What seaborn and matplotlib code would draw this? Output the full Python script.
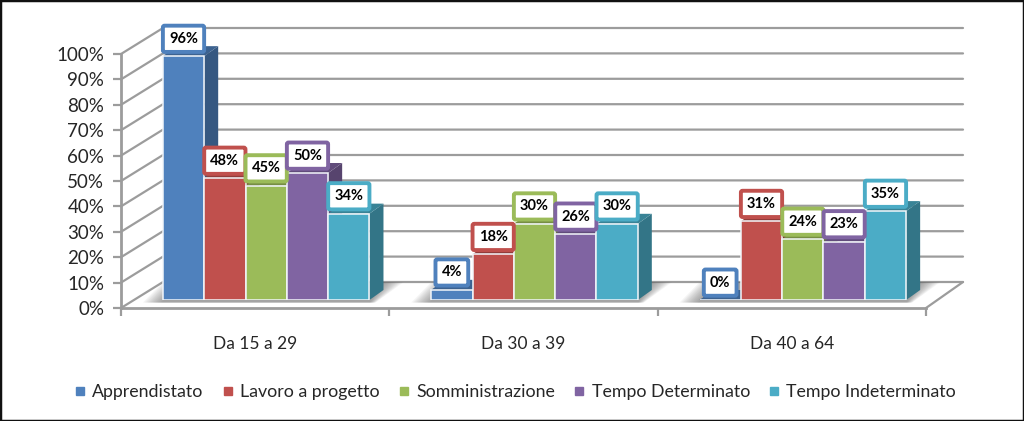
import numpy as np
import pandas as pd
import matplotlib
matplotlib.use('Agg')
import matplotlib.pyplot as plt
import seaborn as sns
from matplotlib.colors import to_rgb
from matplotlib.lines import Line2D
from matplotlib.patches import Polygon, Rectangle

# dati
fasce = ['Da 15 a 29', 'Da 30 a 39', 'Da 40 a 64']
contratti = ['Apprendistato', 'Lavoro a progetto', 'Somministrazione',
             'Tempo Determinato', 'Tempo Indeterminato']
apprendistato = [96, 4, 0]
lavoro_progetto = [48, 18, 31]
somministrazione = [45, 30, 24]
tempo_determinato = [50, 26, 23]
tempo_indeterminato = [34, 30, 35]
colori = ['#4F81BD', '#C0504D', '#9BBB59', '#8064A2', '#4BACC6']
tick_y = list(range(0, 101, 10))

df = pd.DataFrame({
    'fascia': fasce * 5,
    'contratto': np.repeat(contratti, 3),
    'valore': apprendistato + lavoro_progetto + somministrazione
    + tempo_determinato + tempo_indeterminato,
})

W, H = 1024, 421
sns.set_style('white')
plt.rcParams['font.family'] = ['Lato', 'DejaVu Sans']
testo = '#262626'
griglia = '#9C9C9C'

fig = plt.figure(figsize=(W / 100, H / 100), dpi=100)
fig.patch.set_facecolor('white')


def box(x0, x1, y_bottom, y_top):
    return [x0 / W, 1 - y_bottom / H, (x1 - x0) / W, (y_bottom - y_top) / H]


# assi principali: griglia, etichette
ax = fig.add_axes(box(121, 926, 308, 54))
ax.set_xlim(-0.5, 2.5)
ax.set_ylim(0, 100)
ax.patch.set_alpha(0)

dx_muro = 42 / 268.3
dy_muro = 26 / 2.54
fine_muro = 2.5 + 37 / 268.3
for v in tick_y:
    ax.plot([-0.5, -0.5 + dx_muro, fine_muro], [v, v + dy_muro, v + dy_muro],
            color=griglia, lw=1.6, clip_on=False, zorder=1)
ax.plot([2.5, fine_muro], [0, dy_muro], color=griglia, lw=1.6, clip_on=False, zorder=1)

ax.set_yticks(tick_y)
ax.set_yticklabels([f'{v}%' for v in tick_y], fontsize=13.5, color=testo)
ax.set_xticks([-0.5, 0.5, 1.5, 2.5])
ax.set_xticklabels([])
ax.set_xticks([0, 1, 2], minor=True)
ax.set_xticklabels(fasce, minor=True, fontsize=12.5, color=testo)
ax.tick_params(axis='both', which='major', length=6, width=1.6, color=griglia, left=True, bottom=True)
ax.tick_params(axis='y', pad=6)
ax.tick_params(axis='x', which='minor', length=0, pad=20)
for lato in ['top', 'right']:
    ax.spines[lato].set_visible(False)
for lato in ['left', 'bottom']:
    ax.spines[lato].set_color(griglia)
    ax.spines[lato].set_linewidth(2)

# assi delle barre, spostati sul pavimento
ax_b = fig.add_axes(box(132, 937, 300, 46))
sns.barplot(data=df, x='fascia', y='valore', hue='contratto', order=fasce,
            hue_order=contratti, palette=colori, saturation=1, width=0.77,
            gap=0, edgecolor='#F2F6FA', linewidth=1.1, legend=False, ax=ax_b)
ax_b.set_xlim(-0.5, 2.5)
ax_b.set_ylim(0, 100)
ax_b.axis('off')
ax_b.patch.set_alpha(0)

dx = 14 / 268.3
dy = 10 / 2.54

# ombra sul pavimento
for g in range(len(fasce)):
    primo = ax_b.containers[0][g]
    ultimo = ax_b.containers[-1][g]
    x0 = primo.get_x()
    x1 = ultimo.get_x() + ultimo.get_width()
    for k in range(12):
        ext = (1 - k / 12) * 20 / 268.3
        ax_b.add_patch(Polygon(
            [(x0 - ext, -1), (x1 + ext * 0.3, -1),
             (x1 + ext + 14 / 268.3, 7), (x0 - ext + 20 / 268.3, 7)],
            closed=True, facecolor='#555555', edgecolor='none', alpha=0.06,
            clip_on=False, zorder=1))

# facce laterali e superiori, etichette
for h, cont in enumerate(ax_b.containers):
    base = np.array(to_rgb(colori[h]))
    for bar, fascia in zip(cont, fasce):
        x, w, v = bar.get_x(), bar.get_width(), bar.get_height()
        bar.set_zorder(4 + 2 * h)
        ax_b.add_patch(Polygon(
            [(x + w, 0), (x + w + dx, dy), (x + w + dx, v + dy), (x + w, v)],
            closed=True, facecolor=base * 0.68, edgecolor='none', zorder=3 + 2 * h))
        ax_b.add_patch(Polygon(
            [(x, v), (x + w, v), (x + w + dx, v + dy), (x + dx, v + dy)],
            closed=True, facecolor=base * 0.76, edgecolor='none', zorder=3 + 2 * h))
        ax_b.annotate(f'{v:.0f}%', xy=(x + w / 2, v), xytext=(0, 12.5),
                      textcoords='offset points', ha='center', va='center',
                      fontsize=10.5, fontweight='bold', color='black', zorder=30,
                      annotation_clip=False,
                      bbox=dict(boxstyle='round,pad=0.42,rounding_size=0.12',
                                facecolor='white', edgecolor=colori[h], linewidth=2.8))

# legenda
maniglie = [Line2D([], [], linestyle='none', marker='s', markersize=5.5, color=c) for c in colori]
fig.legend(maniglie, contratti, loc='center', bbox_to_anchor=(515 / W, 1 - 392 / H),
           ncol=5, frameon=False, fontsize=12.8, labelcolor=testo, handlelength=0.7,
           handletextpad=0.35, columnspacing=1.0)

# cornice
fig.add_artist(Rectangle((0, 0), 1, 1, transform=fig.transFigure, fill=False,
                         edgecolor='#111111', linewidth=2.5))

fig.savefig('out.png', dpi=100)
